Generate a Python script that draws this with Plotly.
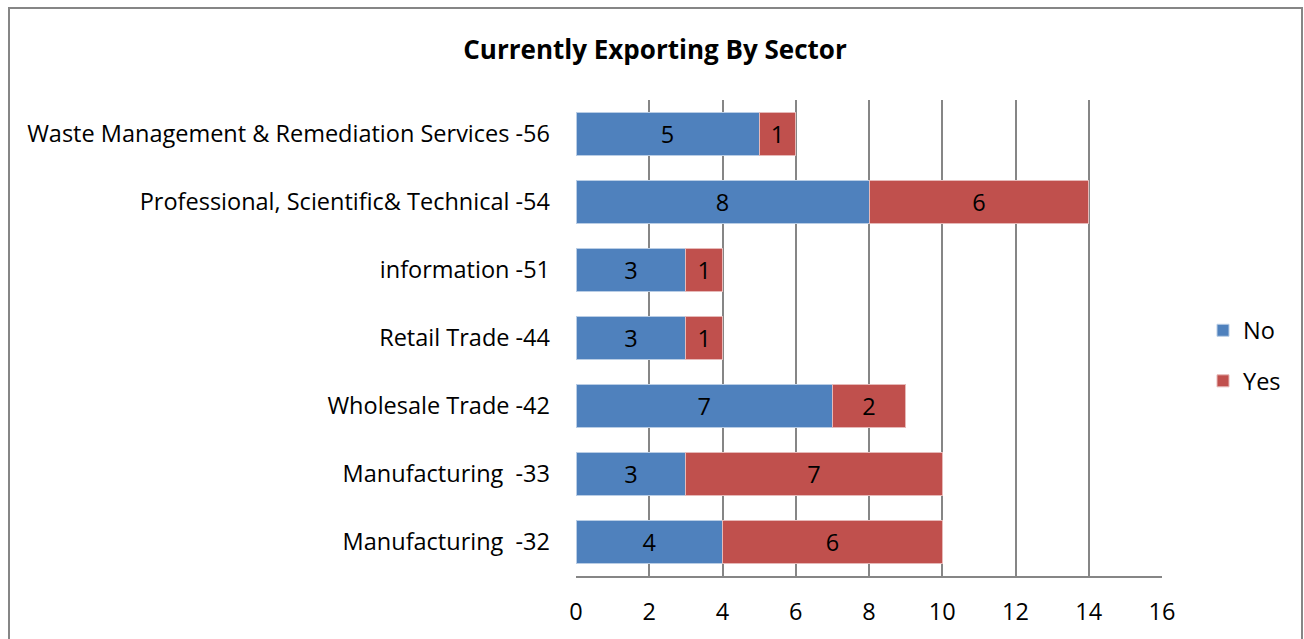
import plotly.graph_objects as go

# Sectors listed bottom to top
sectors = [
    "Manufacturing \u00a0-32",
    "Manufacturing \u00a0-33",
    "Wholesale Trade -42",
    "Retail Trade -44",
    "information -51",
    "Professional, Scientific& Technical -54",
    "Waste Management & Remediation Services -56",
]
no_counts = [4, 3, 7, 3, 3, 8, 5]
yes_counts = [6, 7, 2, 1, 1, 6, 1]
x_ticks = [0, 2, 4, 6, 8, 10, 12, 14, 16]

W, H = 1304, 639
L, R, T, B = 576, 1162, 100, 576

FONT = "Open Sans, Liberation Sans, sans-serif"
FS = 23.5

fig = go.Figure()
fig.add_trace(go.Bar(
    y=sectors, x=no_counts, name="No", orientation="h", legendgroup="no",
    marker=dict(color="#4F81BD", line=dict(color="#B9CDE5", width=1)),
    text=no_counts, textposition="inside", insidetextanchor="middle",
    textfont=dict(color="black", size=FS, family=FONT),
))
fig.add_trace(go.Bar(
    y=sectors, x=yes_counts, name="Yes", orientation="h", legendgroup="yes",
    marker=dict(color="#C0504D", line=dict(color="#E6B9B8", width=1)),
    text=yes_counts, textposition="inside", insidetextanchor="middle",
    textfont=dict(color="black", size=FS, family=FONT),
))

pw = R - L
ph = B - T
def px_x(p):
    return (p - L) / pw
def px_y(p):
    return (B - p) / ph

fig.update_layout(
    width=W, height=H,
    barmode="stack", bargap=0.37,
    uniformtext=dict(minsize=FS, mode="show"),
    margin=dict(l=L, r=W - R, t=T, b=H - B, autoexpand=False),
    paper_bgcolor="white", plot_bgcolor="white",
    font=dict(family=FONT, size=FS, color="black"),
    title=dict(
        text="<b>Currently Exporting By Sector</b>",
        x=px_x(655), xref="paper", xanchor="center",
        y=1 - 50 / H, yanchor="middle",
        font=dict(size=26, family=FONT, color="black"),
    ),
    xaxis=dict(
        range=[0, 16], tickvals=x_ticks, showgrid=True,
        gridcolor="#868686", gridwidth=1.5,
        showline=True, linecolor="#868686", linewidth=1.5,
        zeroline=False, ticks="", ticklabelstandoff=14,
        tickfont=dict(size=FS, family=FONT),
        fixedrange=True,
    ),
    yaxis=dict(
        categoryorder="array", categoryarray=sectors,
        showgrid=False, zeroline=False, showline=False,
        ticks="", ticklabelstandoff=25,
        tickfont=dict(size=FS, family=FONT),
        fixedrange=True,
    ),
    legend=dict(
        x=px_x(1203), xanchor="left",
        y=px_y(356), yanchor="middle",
        font=dict(size=FS, family=FONT),
        traceorder="grouped",
        tracegroupgap=17, itemwidth=30,
        bgcolor="rgba(0,0,0,0)",
    ),
    shapes=[dict(
        type="rect", xref="paper", yref="paper",
        x0=px_x(9), x1=px_x(1302), y0=px_y(645), y1=px_y(8),
        line=dict(color="#868686", width=2), fillcolor="rgba(0,0,0,0)",
        layer="below",
    )],
    showlegend=True,
)

fig.write_html("out.html")
